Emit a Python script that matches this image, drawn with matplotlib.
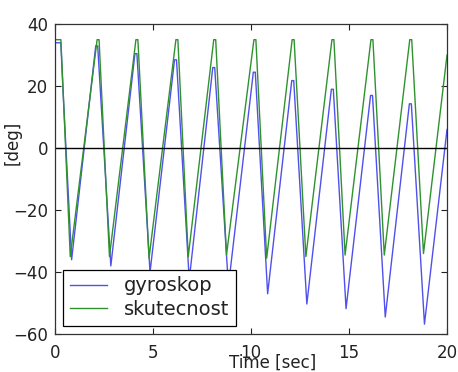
import matplotlib
matplotlib.use('Agg')
import matplotlib.pyplot as plt

# turning points (time [sec], angle [deg])
skutecnost_t = [0, 0.3, 0.4, 0.78, 2.15, 2.25, 2.78, 4.13, 4.23, 4.8, 6.17, 6.27, 6.8,
                8.1, 8.2, 8.75, 10.15, 10.25, 10.8, 12.1, 12.2, 12.8, 14.13, 14.23, 14.8,
                16.12, 16.22, 16.8, 18.1, 18.2, 18.8, 20]
skutecnost_v = [35, 35, 21, -35, 35, 35, -35, 35, 35, -35.5, 35, 35, -35,
                35, 35, -34.5, 35, 35, -35.5, 35, 35, -35, 35, 35, -34.5,
                35, 35, -34.5, 35, 35, -34, 30]

gyroskop_t = [0, 0.3, 0.4, 0.85, 2.08, 2.18, 2.85, 4.08, 4.18, 4.85, 6.1, 6.2, 6.85,
              8.05, 8.15, 8.85, 10.12, 10.22, 10.85, 12.08, 12.18, 12.85, 14.1, 14.2, 14.85,
              16.1, 16.2, 16.85, 18.08, 18.18, 18.85, 20]
gyroskop_v = [34, 34, 20, -36, 33, 33, -38, 30.5, 30.5, -40, 28.5, 28.5, -42.5,
              26, 26, -44.5, 24.5, 24.5, -47, 21.8, 21.8, -50.3, 19, 19, -51.8,
              17, 17, -54.5, 14.3, 14.3, -56.8, 6]

x_ticks = [0, 5, 10, 15, 20]
y_ticks = [-60, -40, -20, 0, 20, 40]

plt.rcParams['font.family'] = ['DejaVu Sans']
plt.rcParams['font.size'] = 12

fig = plt.figure(figsize=(4.58, 3.72), dpi=100)
ax = fig.add_axes([0.120, 0.102, 0.856, 0.833])

ax.plot(gyroskop_t, gyroskop_v, color='#5050ec', lw=1.0, label='gyroskop')
ax.plot(skutecnost_t, skutecnost_v, color='#2f922f', lw=1.0, label='skutecnost')
ax.axhline(0, color='black', lw=1.0)

ax.set_xlim(0, 20)
ax.set_ylim(-60, 40)
ax.set_xticks(x_ticks)
ax.set_yticks(y_ticks)
ax.tick_params(direction='in', top=True, right=True, length=4, width=0.8,
               colors='#222222', labelsize=12)
ax.tick_params(axis='x', pad=7)
ax.tick_params(axis='y', pad=5)
for s in ax.spines.values():
    s.set_color('#333333')
    s.set_linewidth(0.9)

# the x label sits right of centre and touches the "10", as in the original
ax.set_xlabel('Time [sec]', color='#222222')
ax.xaxis.set_label_coords(0.556, -0.062)
ax.set_ylabel('[deg]', color='#222222')
ax.yaxis.set_label_coords(-0.085, 0.616)

leg = ax.legend(loc='lower left', bbox_to_anchor=(0.02, 0.026), fancybox=False,
                edgecolor='black', framealpha=1, handlelength=1.9, handletextpad=0.9,
                labelspacing=0.25, borderaxespad=0, fontsize=14, borderpad=0.35)
leg.get_frame().set_linewidth(0.9)
for t in leg.get_texts():
    t.set_color('#222222')

fig.savefig('out.png', dpi=100)
